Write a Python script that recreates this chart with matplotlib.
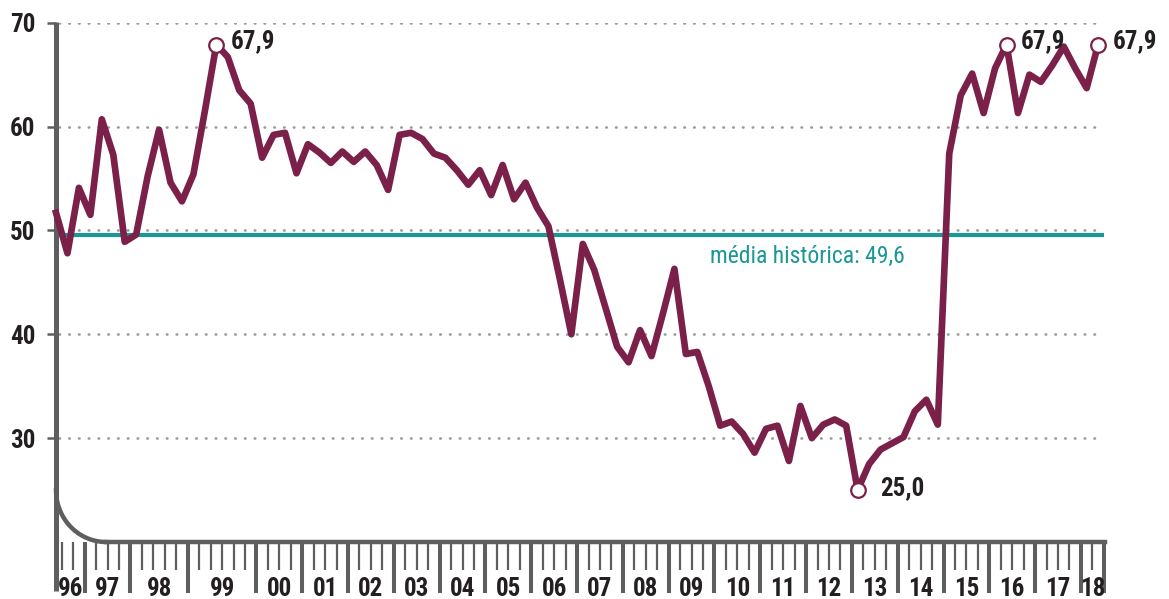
import numpy as np
import matplotlib.pyplot as plt

plt.rcParams['font.family'] = ['Lato', 'DejaVu Sans']
BOLD = ['Roboto Condensed', 'Roboto', 'DejaVu Sans']

# data: one value per survey, grouped by year
years = ['96', '97', '98', '99', '00', '01', '02', '03', '04', '05', '06', '07',
         '08', '09', '10', '11', '12', '13', '14', '15', '16', '17', '18']
surveys_per_year = [3, 4, 5, 6, 4, 4, 4, 4, 4, 4, 4, 4,
                    4, 4, 4, 4, 4, 4, 4, 4, 4, 4, 2]
values = [51.7, 47.8, 54.1,
          51.5, 60.7, 57.3, 48.9,
          49.6, 55.2, 59.7, 54.6, 52.8,
          55.4, 61.5, 67.9, 66.7, 63.5, 62.2,
          57.0, 59.2, 59.4, 55.5,
          58.3, 57.5, 56.5, 57.6,
          56.6, 57.6, 56.3, 53.9,
          59.2, 59.4, 58.8, 57.4,
          57.0, 55.8, 54.4, 55.8,
          53.4, 56.3, 53.0, 54.6,
          52.2, 50.4, 45.3, 40.0,
          48.7, 46.2, 42.5, 38.8,
          37.3, 40.4, 37.9, 42.0,
          46.3, 38.1, 38.3, 35.0,
          31.2, 31.6, 30.4, 28.6,
          30.9, 31.2, 27.8, 33.1,
          30.0, 31.3, 31.8, 31.2,
          25.0, 27.5, 28.9, 29.5,
          30.1, 32.6, 33.7, 31.3,
          57.4, 63.0, 65.1, 61.3,
          65.6, 67.9, 61.3, 65.0,
          64.3, 65.9, 67.7, 65.6,
          63.7, 67.9]
media = 49.6
yticks = [30, 40, 50, 60, 70]

wine = '#7b2049'
teal = '#1b9797'
gray = '#5e5e5e'
dark = '#231f20'

fig = plt.figure(figsize=(11.69, 5.99), dpi=100)
ax = fig.add_axes([56 / 1169, 1 - 542 / 599, (1105 - 56) / 1169, (542 - 22.7) / 599])
x = np.arange(len(values))
ax.set_xlim(0, 91.6)
ax.set_ylim(20, 70)

# dotted grid
for g in yticks:
    ax.plot([0.3, 91.1], [g, g], color='#9a9a9a', lw=1.9, ls=(0, (0.2, 3.5)),
            dash_capstyle='round', zorder=1)

# historical mean
ax.plot([0, 91.5], [media, media], color=teal, lw=3, zorder=2,
        solid_capstyle='butt', clip_on=False)
ax.text(74.1, 46.9, f'média histórica: {media:.1f}'.replace('.', ','),
        ha='right', va='baseline', color=teal, fontsize=17, family=BOLD)

# series
ax.plot(x, values, color=wine, lw=4.8, zorder=3, clip_on=False,
        solid_joinstyle='round')

vmax, vmin = max(values), min(values)
for i, v in enumerate(values):
    if v in (vmax, vmin):
        ax.plot(i, v, 'o', ms=10.5, mfc='white', mec=wine, mew=1.6,
                zorder=4, clip_on=False)
        off = 16 if v == vmin else 10.5
        ax.annotate(f'{v:.1f}'.replace('.', ','), (i, v),
                    xytext=(off, 1 if v == vmin else 2.5),
                    textcoords='offset points', ha='left', va='center',
                    fontsize=18, fontweight='bold', color=dark, family=BOLD)

# axes: rounded corner frame
for s in ['top', 'right', 'left']:
    ax.spines[s].set_visible(False)
rx, ry = 4.37, 5.0
ax.spines['bottom'].set_bounds(rx, 91.6)
ax.spines['bottom'].set_linewidth(3.2)
ax.spines['bottom'].set_color(gray)
ax.plot([0, 0], [70.1, 15.26], color=gray, lw=3.6, solid_capstyle='butt',
        clip_on=False)
t = np.linspace(np.pi, 1.5 * np.pi, 40)
ax.plot(rx + rx * np.cos(t), 20 + ry + ry * np.sin(t), color=gray, lw=3.2,
        clip_on=False)

# x ticks: one slot per survey, long ticks at year changes
bounds = np.cumsum(surveys_per_year) - 0.5
minor = [i - 0.5 for i in range(1, len(values)) if (i - 0.5) not in bounds]
ax.set_xticks(bounds)
ax.set_xticks(minor, minor=True)
ax.tick_params(axis='x', which='major', length=36.7, width=2.9, color=gray,
               labelbottom=False)
ax.tick_params(axis='x', which='minor', length=20, width=1.6, color=gray)

starts = np.concatenate([[0], bounds[:-1]])
for yr, a, b in zip(years, starts, bounds):
    ax.text((a + b) / 2, -0.0905, yr, transform=ax.get_xaxis_transform(),
            ha='center', va='center', fontsize=18, fontweight='bold',
            color=dark, family=BOLD)

ax.set_yticks(yticks)
ax.set_yticklabels([str(v) for v in yticks], fontweight='bold', color=dark,
                   family=BOLD)
ax.tick_params(axis='y', length=6.5, width=1.8, color=gray, pad=8.6,
               labelsize=18)

fig.savefig('out.png', dpi=100)
